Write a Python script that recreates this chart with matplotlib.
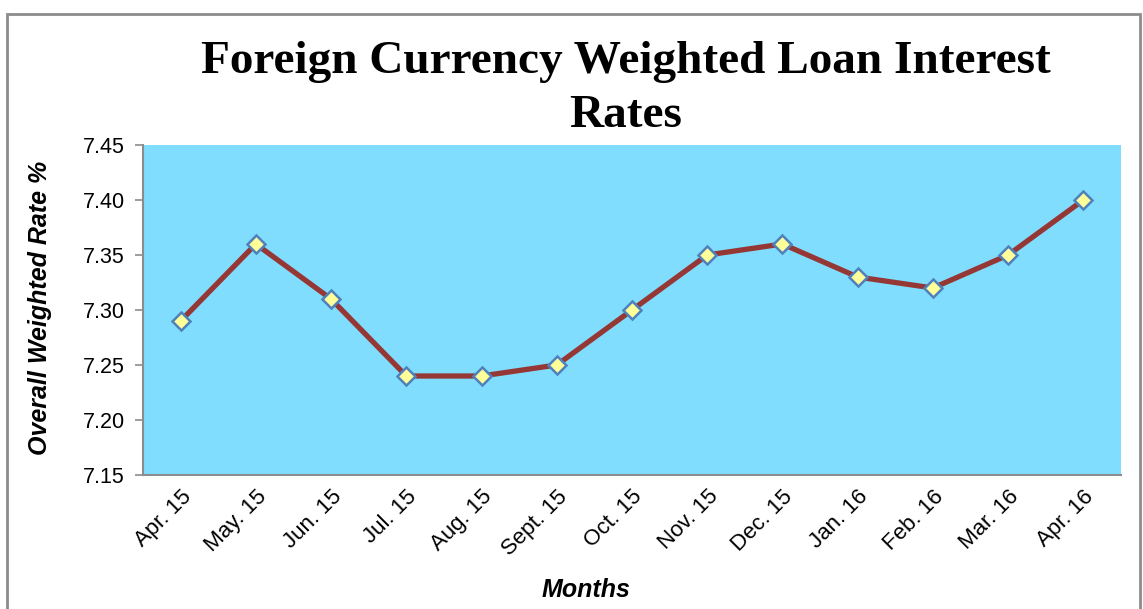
import matplotlib.pyplot as plt
import numpy as np
from matplotlib.patches import Rectangle

months = ['Apr. 15', 'May. 15', 'Jun. 15', 'Jul. 15', 'Aug. 15', 'Sept. 15', 'Oct. 15',
          'Nov. 15', 'Dec. 15', 'Jan. 16', 'Feb. 16', 'Mar. 16', 'Apr. 16']
rates = [7.29, 7.36, 7.31, 7.24, 7.24, 7.25, 7.30, 7.35, 7.36, 7.33, 7.32, 7.35, 7.40]
y_ticks = [7.15, 7.20, 7.25, 7.30, 7.35, 7.40, 7.45]

W, H = 1143, 609
fig = plt.figure(figsize=(W / 100, H / 100), dpi=100)
fig.patch.set_facecolor('white')

# outer chart frame (excel style)
fig.patches.append(Rectangle((7 / W, -0.05), (1140 - 7) / W, 1.05 - 14 / H,
                             transform=fig.transFigure, fill=False,
                             edgecolor='#8c8c8c', linewidth=2))

ax = fig.add_axes([143 / W, (H - 475) / H, (1121 - 143) / W, (475 - 145) / H])
ax.set_facecolor('#80ddfd')

x = np.arange(len(months))
ax.plot(x, rates, color='#953735', linewidth=3.8, solid_joinstyle='round',
        solid_capstyle='round', marker='D', markersize=9,
        markerfacecolor='#ffff99', markeredgecolor='#4f81bd', markeredgewidth=1.8)

ax.set_xlim(-0.5, len(months) - 0.5)
ax.set_ylim(7.15, 7.45)
ax.set_yticks(y_ticks)
ax.set_yticklabels(['%.2f' % v for v in y_ticks])
ax.set_xticks(x)
ax.set_xticklabels(months, rotation=45, ha='right', rotation_mode='anchor')

for s in ['top', 'right']:
    ax.spines[s].set_visible(False)
for s in ['left', 'bottom']:
    ax.spines[s].set_color('#8c8c8c')
    ax.spines[s].set_linewidth(1.5)
ax.tick_params(axis='y', length=6, width=1.2, color='#8c8c8c', pad=7,
               labelsize=15.5, labelfontfamily='Liberation Sans')
ax.tick_params(axis='x', length=0, pad=8, labelsize=16,
               labelfontfamily='Liberation Sans')

fig.text(626 / W, 1 - 41 / H, 'Foreign Currency Weighted Loan Interest\nRates',
         ha='center', va='top', fontsize=34, fontweight='bold',
         family='Liberation Serif', linespacing=1.38)
fig.text(40 / W, 1 - 308 / H, 'Overall Weighted Rate %', rotation=90,
         ha='center', va='center', fontsize=18, fontweight='bold',
         style='italic', family='Liberation Sans')
fig.text(586 / W, 1 - 590 / H, 'Months', ha='center', va='center',
         fontsize=18, fontweight='bold', style='italic', family='Liberation Sans')

fig.savefig('out.png', dpi=100)
